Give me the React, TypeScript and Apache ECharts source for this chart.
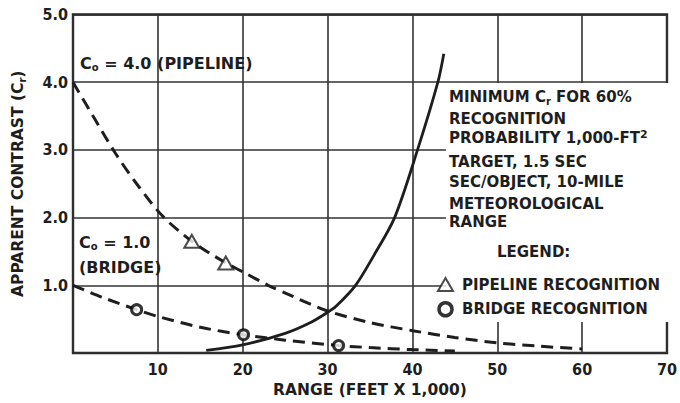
import React, { useEffect, useRef } from 'react';
import * as echarts from 'echarts';

// ---- data ----
const xMin = 0;
const xMax = 70;
const xInterval = 10;
const yMin = 0;
const yMax = 5;
const yInterval = 1;

// dashed curve, C0 = 4.0 (pipeline)
const pipelineCurveX = [0, 2.5, 5, 7.5, 10.5, 14, 18, 20, 23, 26, 30, 35, 40, 45, 50, 55, 60];
const pipelineCurveY = [4.0, 3.47, 2.95, 2.5, 2.03, 1.65, 1.33, 1.2, 1.0, 0.83, 0.62, 0.45, 0.33, 0.23, 0.15, 0.1, 0.06];
// pipeline recognition points (triangles)
const pipelinePointsX = [14, 18];
const pipelinePointsY = [1.65, 1.33];

// dashed curve, C0 = 1.0 (bridge)
const bridgeCurveX = [0, 3.5, 7.5, 10, 15, 20, 25, 31.3, 35, 40, 45];
const bridgeCurveY = [1.0, 0.82, 0.64, 0.54, 0.38, 0.27, 0.19, 0.11, 0.08, 0.05, 0.03];
// bridge recognition points (circles)
const bridgePointsX = [7.5, 20.1, 31.3];
const bridgePointsY = [0.64, 0.27, 0.11];

// solid curve: minimum Cr for 60% recognition probability
const thresholdX = [15.7, 20, 25, 28, 30, 31, 33.3, 35.5, 37.9, 40.6, 43, 43.7];
const thresholdY = [0.04, 0.12, 0.29, 0.45, 0.6, 0.69, 1.0, 1.45, 2.0, 3.0, 4.0, 4.42];

const annotationLines = [
  'MINIMUM C{sub|r} FOR 60%',
  'RECOGNITION',
  'PROBABILITY 1,000-FT{sup|2}',
  'TARGET, 1.5 SEC',
  'SEC/OBJECT, 10-MILE',
  'METEOROLOGICAL',
  'RANGE',
];
const annotationYs = [97, 119, 138, 162, 182, 204, 222];

const pair = (xs: number[], ys: number[]) => xs.map((x, i) => [x, ys[i]]);

const INK = '#1e1e1e';
const FONT = '"DejaVu Sans", sans-serif';
const NARROW = '"Liberation Sans Narrow", "DejaVu Sans Condensed", sans-serif';

const richSub = {
  sub: { fontSize: 10, fontWeight: 'bold', fontFamily: FONT, color: INK, verticalAlign: 'bottom', lineHeight: 10 },
  sup: { fontSize: 11, fontWeight: 'bold', fontFamily: FONT, color: INK, verticalAlign: 'top', lineHeight: 11 },
};

export default function App() {
  const ref = useRef<HTMLDivElement>(null);

  useEffect(() => {
    if (!ref.current) return;
    const chart = echarts.init(ref.current, null, { renderer: 'svg' });

    const textEl = (text: string, x: number, y: number, size = 15) => ({
      type: 'text',
      x,
      y,
      z: 10,
      style: {
        text,
        fill: INK,
        fontFamily: FONT,
        fontSize: size,
        fontWeight: 'bold',
        verticalAlign: 'middle',
        lineHeight: 19,
        rich: {
          sub: { ...richSub.sub },
          sup: { ...richSub.sup },
        },
      },
    });

    chart.setOption({
      animation: false,
      backgroundColor: '#fff',
      grid: {
        left: 73,
        right: 5,
        top: 14.5,
        bottom: 50,
        show: true,
        borderColor: '#222',
        borderWidth: 2.4,
        backgroundColor: 'transparent',
      },
      xAxis: {
        type: 'value',
        min: xMin,
        max: xMax,
        interval: xInterval,
        name: 'RANGE (FEET X 1,000)',
        nameLocation: 'middle',
        nameGap: 28,
        nameTextStyle: { color: INK, fontFamily: FONT, fontWeight: 'bold', fontSize: 15.5 },
        axisLine: { show: false },
        axisTick: { show: false },
        axisLabel: {
          margin: 8,
          color: INK,
          fontFamily: NARROW,
          fontWeight: 'bold',
          fontSize: 16,
          formatter: (v: number) => (v === 0 ? '' : String(v)),
        },
        splitLine: { show: true, lineStyle: { color: '#333', width: 1.6 } },
      },
      yAxis: {
        type: 'value',
        min: yMin,
        max: yMax,
        interval: yInterval,
        name: 'APPARENT CONTRAST (C{sub|r})',
        nameLocation: 'middle',
        nameRotate: 90,
        nameGap: 46,
        nameTextStyle: {
          color: INK,
          fontFamily: FONT,
          fontWeight: 'bold',
          fontSize: 15.5,
          lineHeight: 19,
          rich: { sub: { ...richSub.sub } },
        },
        axisLine: { show: false },
        axisTick: { show: false },
        axisLabel: {
          margin: 5,
          color: INK,
          fontFamily: NARROW,
          fontWeight: 'bold',
          fontSize: 16,
          formatter: (v: number) => (v === 0 ? '' : v.toFixed(1)),
        },
        splitLine: { show: true, lineStyle: { color: '#333', width: 1.6 } },
      },
      legend: {
        orient: 'vertical',
        left: 437,
        top: 277,
        itemWidth: 15,
        itemHeight: 13,
        itemGap: 9,
        padding: 0,
        textStyle: { color: INK, fontFamily: FONT, fontWeight: 'bold', fontSize: 15, padding: [0, 0, 0, 4] },
        data: [
          {
            name: 'PIPELINE RECOGNITION',
            icon: 'triangle',
            itemStyle: { color: '#fff', borderColor: INK, borderWidth: 2 },
          },
          {
            name: 'BRIDGE RECOGNITION',
            icon: 'circle',
            itemStyle: { color: '#fff', borderColor: '#000', borderWidth: 3.5 },
          },
        ],
      },
      graphic: [
        // white panel behind the annotation text (hides the grid lines there)
        {
          type: 'rect',
          z: 1,
          shape: { x: 446, y: 83, width: 227, height: 239 },
          style: { fill: '#fff' },
        },
        textEl('C{sub|o} = 4.0 (PIPELINE)', 80, 63, 16),
        textEl('C{sub|o} = 1.0', 79, 242, 16),
        textEl('(BRIDGE)', 79, 267, 16),
        ...annotationLines.map((t, i) => textEl(t, 449, annotationYs[i], 15)),
        textEl('LEGEND:', 497, 252, 15),
      ],
      series: [
        {
          name: 'C0 = 4.0 (PIPELINE)',
          type: 'line',
          data: pair(pipelineCurveX, pipelineCurveY),
          smooth: 0.3,
          showSymbol: false,
          symbol: 'none',
          lineStyle: { color: INK, width: 3, type: [12, 7] },
          z: 3,
        },
        {
          name: 'C0 = 1.0 (BRIDGE)',
          type: 'line',
          data: pair(bridgeCurveX, bridgeCurveY),
          smooth: 0.3,
          showSymbol: false,
          symbol: 'none',
          lineStyle: { color: INK, width: 3, type: [12, 7] },
          z: 3,
        },
        {
          name: 'MINIMUM Cr',
          type: 'line',
          data: pair(thresholdX, thresholdY),
          smooth: 0.3,
          showSymbol: false,
          symbol: 'none',
          lineStyle: { color: INK, width: 2.8 },
          z: 3,
        },
        {
          name: 'PIPELINE RECOGNITION',
          type: 'scatter',
          data: pair(pipelinePointsX, pipelinePointsY),
          symbol: 'triangle',
          symbolSize: [15, 13],
          itemStyle: { color: '#fff', borderColor: INK, borderWidth: 2 },
          z: 5,
        },
        {
          name: 'BRIDGE RECOGNITION',
          type: 'scatter',
          data: pair(bridgePointsX, bridgePointsY),
          symbol: 'circle',
          symbolSize: 10,
          itemStyle: { color: '#fff', borderColor: '#000', borderWidth: 3 },
          z: 5,
        },
      ],
    });

    return () => chart.dispose();
  }, []);

  return <div ref={ref} style={{ width: 680, height: 403, position: 'absolute', left: 0, top: 0 }} />;
}
